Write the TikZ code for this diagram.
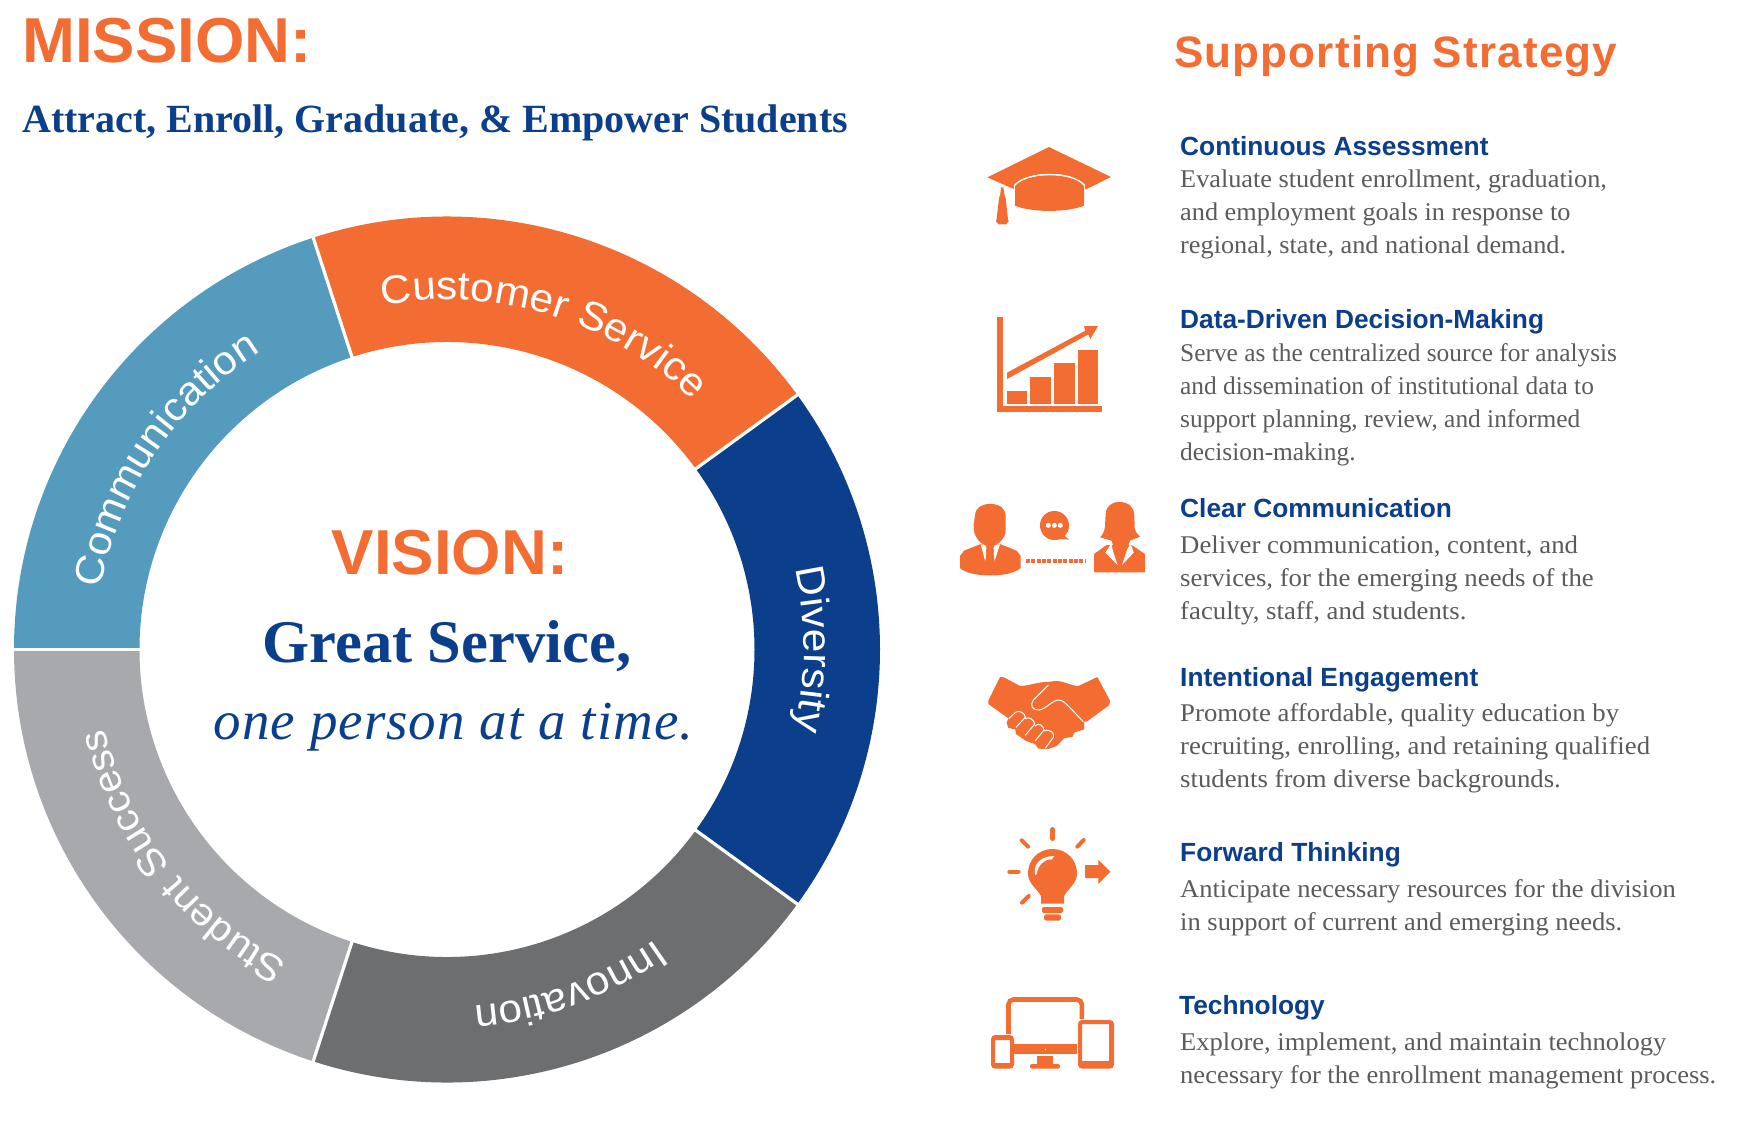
\documentclass[tikz,border=0pt]{standalone}
\usepackage{fontspec}
\setmainfont{Liberation Serif}
\newfontfamily\arialf{Liberation Sans}
\newfontfamily\ringf[FakeStretch=1.06]{Liberation Sans}
\usetikzlibrary{decorations.text}
\definecolor{orng}{HTML}{F36D32}
\definecolor{navy}{HTML}{0B3F8B}
\definecolor{teal}{HTML}{549BBE}
\definecolor{dgray}{HTML}{6D6E70}
\definecolor{lgray}{HTML}{A7A9AC}
\definecolor{txtg}{HTML}{5A5B5D}
\newcommand{\fs}[1]{\fontsize{#1}{#1}\selectfont}
\tikzset{
  seg/.style={fill=#1,draw=none},
  sep/.style={draw=white,line width=3.2pt},
  ringlabel/.style n args={2}{decoration={text along path,text align=center,
     text={|\ringf\fs{#1}\color{white}|#2}},decorate},
  head/.style={anchor=base west,inner sep=0pt,font=\arialf\bfseries\fs{26.3},text=navy},
  body/.style={anchor=north west,inner sep=0pt,align=left,font=\fs{25.5}\addfontfeature{FakeStretch=#1},text=txtg},
  icon/.style={fill=orng,draw=none},
  iconw/.style={draw=white,line width=1pt,fill=none},
  zoomed/.style={x=0.33333pt,y=-0.33333pt}
}
\newcommand{\bl}{\\[7.5pt]}
\begin{document}
\begin{tikzpicture}[x=1pt,y=-1pt]
\useasboundingbox (0,0) rectangle (1737,1122);
\fill[white] (0,0) rectangle (1737,1122);

% ring
\begin{scope}[shift={(447,649.5)},y=1pt]
\foreach \a/\b/\c in {108/36/orng,36/-36/navy,-36/-108/dgray,-108/-180/lgray,180/108/teal}{
  \fill[seg=\c] (\a:433) arc[start angle=\a,end angle=\b,radius=433]
     -- (\b:307.5) arc[start angle=\b,end angle=\a,radius=307.5] -- cycle;
}
\foreach \a in {108,36,-36,-108,180}{ \draw[sep] (\a:305) -- (\a:435); }
\path[ringlabel={40}{Customer Service}] (113:350) arc[start angle=113,end angle=33,radius=350];
\path[ringlabel={40}{Diversity}] (40:357) arc[start angle=40,end angle=-40,radius=357];
\path[ringlabel={40}{Innovation}] (-30:357) arc[start angle=-30,end angle=-110,radius=357];
\path[ringlabel={38.5}{Student Success}] (-102:351) arc[start angle=-102,end angle=-182,radius=351];
\path[ringlabel={40}{Communication}] (186:351) arc[start angle=186,end angle=106,radius=351];
\end{scope}

% titles
\node[anchor=base west,inner sep=0pt,font=\arialf\bfseries\fs{63.5},text=orng] (mission) at (22,62) {MISSION:};
\node[anchor=base west,inner sep=0pt,font=\bfseries\fs{40},text=navy] (attract) at (22,132.5) {Attract, Enroll, Graduate, \& Empower Students};
\node[anchor=base west,inner sep=0pt,font=\arialf\bfseries\fs{44}\addfontfeature{LetterSpace=2.7},text=orng] (support) at (1174,67) {Supporting Strategy};
\node[anchor=base,inner sep=0pt,font=\arialf\bfseries\fs{63.5},text=orng] (vision) at (450,574) {VISION:};
\node[anchor=base,inner sep=0pt,font=\bfseries\fs{60.5},text=navy] (great) at (447,662) {Great Service,};
\node[anchor=base,inner sep=0pt,font=\itshape\fs{55}\addfontfeature{LetterSpace=1.9},text=navy] (one) at (453.5,739) {one person at a time.};

% right column
\node[head] (h1) at (1180,155) {Continuous Assessment};
\node[body=1.03] (b1) at (1180,169.5) {Evaluate student enrollment, graduation,\bl and employment goals in response to\bl regional, state, and national demand.};
\node[head] (h2) at (1180,328) {Data-Driven Decision-Making};
\node[body=0.995] (b2) at (1180,343.5) {Serve as the centralized source for analysis\bl and dissemination of institutional data to\bl support planning, review, and informed\bl decision-making.};
\node[head] (h3) at (1180,517) {Clear Communication};
\node[body=1.05] (b3) at (1180,535.5) {Deliver communication, content, and\bl services, for the emerging needs of the\bl faculty, staff, and students.};
\node[head] (h4) at (1180,686.5) {Intentional Engagement};
\node[body=1.05] (b4) at (1180,703) {Promote affordable, quality education by\bl recruiting, enrolling, and retaining qualified\bl students from diverse backgrounds.};
\node[head] (h5) at (1180,861) {Forward Thinking};
\node[body=1.04] (b5) at (1180,879.5) {Anticipate necessary resources for the division\bl in support of current and emerging needs.};
\node[head] (h6) at (1179,1014.5) {Technology};
\node[body=1.04] (b6) at (1180,1033) {Explore, implement, and maintain technology\bl necessary for the enrollment management process.};

% cap + chart icons
\begin{scope}[shift={(940,120)},zoomed]
\fill[icon] (327,81) -- (513,171) -- (436,209) -- (435,195) .. controls (400,150) and (260,150) .. (222,195) -- (221,207) -- (142,172) -- cycle;
\fill[icon] (225,198) .. controls (262,155) and (396,155) .. (432,198) -- (432,257) .. controls (380,278) and (275,278) .. (225,257) -- cycle;
\draw[iconw] (222,197) .. controls (260,152) and (398,152) .. (435,197);
\fill[icon] (183,202) -- (190,202) -- (193,222) -- (197,235) -- (204,298) -- (206,304) -- (198,313) -- (176,313) -- (168,304) -- (170,296) -- (177,235) -- (181,222) -- cycle;
\fill[icon] (171,591) rectangle (189,876);
\fill[icon] (171,858) rectangle (486,876);
\fill[icon] (201,813) rectangle (261,852);
\fill[icon] (270,771) rectangle (333,852);
\fill[icon] (342,729) rectangle (405,852);
\fill[icon] (414,690) rectangle (474,852);
\fill[icon] (201,758) -- (436,632) -- (432,618) -- (474,618) -- (451,657) -- (445,643) -- (201,777) -- cycle;
\end{scope}

% people + handshake
\begin{scope}[shift={(940,480)},zoomed]
\fill[icon] (60,228) -- (72,212) -- (122,192) -- (180,192) -- (230,212) -- (242,228) -- (242,264) .. controls (210,294) and (90,294) .. (60,264) -- cycle;
\fill[white] (122,193) -- (136,245) -- (140,208) -- (136,193) -- cycle;
\fill[white] (180,193) -- (163,245) -- (160,208) -- (164,193) -- cycle;
\fill[icon] (150,72) .. controls (180,72) and (197,85) .. (197,110) -- (197,158) .. controls (190,180) and (172,199) .. (150,199) .. controls (128,199) and (110,180) .. (103,158) -- (101,135) -- (105,105) .. controls (108,82) and (125,72) .. (150,72) -- cycle;
\fill[icon] (138,208) -- (162,208) -- (160,222) -- (164,245) -- (136,245) -- (140,222) -- cycle;
\fill[icon] (343,93) .. controls (367,93) and (387,112) .. (387,136) .. controls (387,150) and (382,160) .. (374,168) -- (387,179) -- (362,177) .. controls (356,180) and (350,180) .. (343,180) .. controls (319,180) and (300,160) .. (300,136) .. controls (300,112) and (319,93) .. (343,93) -- cycle;
\foreach \p in {325,343,361}{ \fill[white] (\p,136) circle[radius=7.5]; }
\draw[orng,line width=3.6pt,dash pattern=on 4pt off 1.33pt] (258,243) -- (436,243);
\fill[icon] (462,222) -- (500,195) -- (575,195) -- (615,222) -- (615,277) -- (462,277) -- cycle;
\fill[white] (496,218) -- (514,190) -- (519,214) -- (533,255) -- cycle;
\fill[white] (581,218) -- (572,190) -- (558,214) -- (546,255) -- cycle;
\fill[icon] (537,66) .. controls (565,66) and (582,80) .. (583,105) -- (584,145) .. controls (587,158) and (595,165) .. (600,170) -- (570,182) -- (545,255) -- (535,255) -- (515,182) -- (480,172) .. controls (488,165) and (493,155) .. (495,140) -- (497,100) .. controls (500,78) and (515,66) .. (537,66) -- cycle;
% handshake
\fill[icon] (180,591) -- (192,592) -- (240,618) .. controls (265,618) and (300,604) .. (325,606) -- (345,603) .. controls (370,602) and (395,618) .. (415,618) -- (472,591) -- (510,662) -- (508,675) -- (440,725) -- (432,725) -- (432,748) -- (402,758) -- (398,770) -- (372,775) -- (350,798) -- (325,807) -- (295,806) -- (285,792) -- (258,783) -- (228,762) -- (226,748) -- (205,744) -- (200,728) -- (205,715) -- (145,672) -- (145,662) -- cycle;
\draw[iconw] (325,615) -- (280,660) .. controls (270,675) and (275,690) .. (295,690) .. controls (315,690) and (335,662) .. (355,660) .. controls (370,660) and (375,668) .. (430,725);
\draw[iconw] (206,716) -- (228,696) .. controls (240,690) and (255,700) .. (256,712) -- (228,742);
\draw[iconw] (256,716) .. controls (268,708) and (282,720) .. (284,732) -- (256,766);
\draw[iconw] (284,738) .. controls (298,726) and (310,738) .. (312,750) -- (286,782);
\draw[iconw] (312,752) .. controls (330,746) and (345,760) .. (340,772) -- (316,804);
\end{scope}

% bulb + devices
\begin{scope}[shift={(960,800)},zoomed]
\draw[orng,line width=4.6pt,line cap=round] (277.5,88) -- (277.5,116);
\draw[orng,line width=4pt,line cap=round] (185,121) -- (204,140);
\draw[orng,line width=4pt,line cap=round] (371,120) -- (352,140);
\draw[orng,line width=4pt,line cap=round] (148,215) -- (176,215);
\draw[orng,line width=4pt,line cap=round] (206,288) -- (186,308);
\fill[icon] (277,147) .. controls (320,147) and (351,180) .. (351,220) .. controls (351,250) and (325,265) .. (312,288) -- (312,311) -- (243,311) -- (243,288) .. controls (230,265) and (204,250) .. (204,220) .. controls (204,180) and (235,147) .. (277,147) -- cycle;
\fill[white] (226,226) .. controls (218,200) and (235,168) .. (283,168) -- (275,178) .. controls (250,178) and (235,195) .. (230,222) -- cycle;
\fill[icon,rounded corners=2pt] (246,321) rectangle (309,339);
\fill[icon,rounded corners=2.5pt] (252,343) rectangle (303,362);
\fill[icon] (375,195) -- (415,195) -- (415,179) -- (451,215) -- (415,252) -- (415,234) -- (375,234) -- cycle;
% devices
\draw[orng,line width=4.6pt,rounded corners=5pt] (145.5,702) -- (145.5,598.5) -- (365.5,598.5) -- (365.5,657);
\fill[icon] (162,732) rectangle (351,762);
\fill[white] (256,748) circle[radius=2];
\fill[icon] (232,768) rectangle (279,793);
\fill[icon,rounded corners=2pt] (210,792) rectangle (300,806);
\fill[icon,rounded corners=4pt,even odd rule] (93,705) rectangle (162,806) (105,720) [sharp corners] rectangle (150,789);
\fill[icon,rounded corners=4pt,even odd rule] (354,660) rectangle (462,806) (366,672) [sharp corners] rectangle (447,783);
\end{scope}
\end{tikzpicture}
\end{document}
